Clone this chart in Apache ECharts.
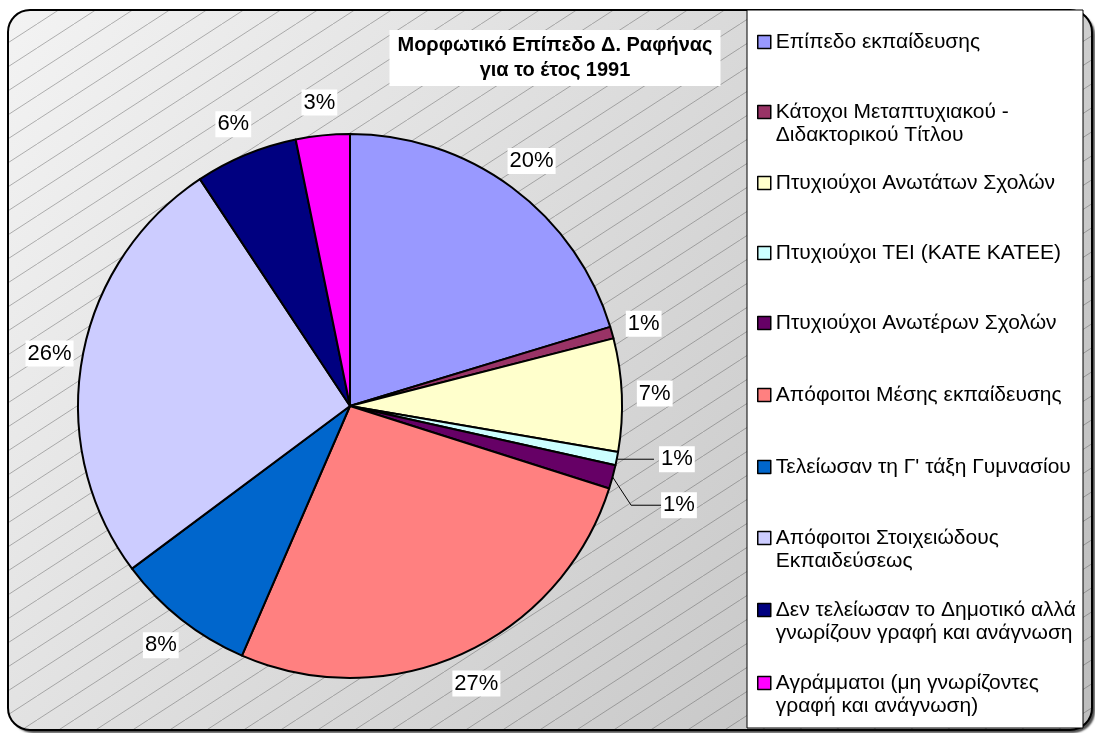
<!DOCTYPE html>
<html>
<head>
<meta charset="utf-8">
<title>Μορφωτικό Επίπεδο Δ. Ραφήνας</title>
<script src="https://cdn.jsdelivr.net/npm/echarts@6/dist/echarts.min.js"></script>
<style>
  html, body { margin: 0; padding: 0; background: #fff; }
  #chart { width: 1095px; height: 733px; }
</style>
</head>
<body>
<div id="chart"></div>
<script>
// legend names (\n = where the legend wraps the text)
const categories = [
  'Επίπεδο εκπαίδευσης',
  'Κάτοχοι Μεταπτυχιακού -\nΔιδακτορικού Τίτλου',
  'Πτυχιούχοι Ανωτάτων Σχολών',
  'Πτυχιούχοι ΤΕΙ (ΚΑΤΕ ΚΑΤΕΕ)',
  'Πτυχιούχοι Ανωτέρων Σχολών',
  'Απόφοιτοι Μέσης εκπαίδευσης',
  'Τελείωσαν τη Γ\' τάξη Γυμνασίου',
  'Απόφοιτοι Στοιχειώδους\nΕκπαιδεύσεως',
  'Δεν τελείωσαν το Δημοτικό αλλά\nγνωρίζουν γραφή και ανάγνωση',
  'Αγράμματοι (μη γνωρίζοντες\nγραφή και ανάγνωση)'
]
// share of population, %
const shares = [20.3, 0.7, 6.7, 0.8, 1.4, 26.6, 8.3, 25.9, 6.1, 3.2]
const colors = ['#9999FF', '#993366', '#FFFFCC', '#CCFFFF', '#660066',
  '#FF8080', '#0066CC', '#CCCCFF', '#000080', '#FF00FF']

const titleText = 'Μορφωτικό Επίπεδο Δ. Ραφήνας\nγια το έτος 1991'

// layout
const FONT = '"Liberation Sans", Arial, sans-serif'
const LEGEND_LH = 23.5
const legendRowY = [42, 112, 183, 253, 323, 395, 467, 538, 610, 683]
// slices whose label sits outside with a leader line: [length, length2, extra drop]
const leader = { 3: [3, 36, 0], 4: [14, 30, 18] }

// diagonal hatch tile for the chart area
const tile = document.createElement('canvas')
tile.width = 37
tile.height = 24
const g = tile.getContext('2d')
g.strokeStyle = 'rgba(80,80,80,0.42)'
g.lineWidth = 1
g.beginPath()
g.moveTo(-37, 48)
g.lineTo(74, -24)
g.stroke()

const chart = echarts.init(document.getElementById('chart'), null, { renderer: 'canvas' })

const pctLabel = p => Math.round(p.percent) + '%'

const labelStyle = {
  fontSize: 22,
  color: '#000',
  fontFamily: FONT,
  backgroundColor: '#fff',
  padding: [3, 2, 1, 2],
  formatter: pctLabel
}

const legends = categories.map((name, i) => {
  const twoLines = name.indexOf('\n') >= 0
  return {
    orient: 'vertical',
    left: 757,
    top: legendRowY[i] - (twoLines ? 1.5 : 0.5) * LEGEND_LH,
    padding: 0,
    itemGap: 0,
    itemWidth: 13,
    itemHeight: 13,
    icon: 'rect',
    selectedMode: false,
    data: [name],
    formatter: n => (twoLines ? '\n' + n : n),
    itemStyle: { borderColor: '#000', borderWidth: 1.5 },
    textStyle: { fontSize: 21, lineHeight: LEGEND_LH, color: '#000', fontFamily: FONT }
  }
})

// push a leader label further down; the guide line is then redrawn by echarts
function dropLabel(p) {
  const l = leader[p.dataIndex]
  if (!l || !l[2]) return {}
  return { y: p.labelRect.y + p.labelRect.height / 2 + l[2] }
}

const option = {
  animation: false,
  title: {
    text: titleText,
    left: 547,
    top: 30,
    textAlign: 'center',
    backgroundColor: '#fff',
    padding: [3, 8],
    textStyle: { fontSize: 20, fontWeight: 'bold', lineHeight: 25, color: '#000', fontFamily: FONT }
  },
  legend: legends,
  graphic: [
    {
      type: 'rect', z: -10,
      shape: { x: 8, y: 10, width: 1084, height: 720, r: 22 },
      style: {
        fill: new echarts.graphic.LinearGradient(0, 0, 1, 1, [
          { offset: 0, color: '#f3f3f3' },
          { offset: 1, color: '#bdbdbd' }
        ]),
        shadowColor: 'rgba(0,0,0,0.7)', shadowOffsetX: 3, shadowOffsetY: 3, shadowBlur: 2
      }
    },
    {
      type: 'rect', z: -9,
      shape: { x: 8, y: 10, width: 1084, height: 720, r: 22 },
      style: { fill: { image: tile, repeat: 'repeat' } }
    },
    {
      type: 'rect', z: -8,
      shape: { x: 8, y: 10, width: 1084, height: 720, r: 22 },
      style: { fill: 'none', stroke: '#000', lineWidth: 2 }
    },
    {
      type: 'rect', z: 1,
      shape: { x: 747, y: 10, width: 336, height: 718 },
      style: { fill: '#fff', stroke: '#000', lineWidth: 1 }
    }
  ],
  series: [
    {
      type: 'pie',
      center: [350, 406],
      radius: 272,
      startAngle: 90,
      clockwise: true,
      legendHoverLink: false,
      avoidLabelOverlap: true,
      itemStyle: { borderColor: '#000', borderWidth: 2 },
      label: Object.assign({ position: 'outside' }, labelStyle),
      labelLine: { lineStyle: { color: '#000', width: 1 } },
      labelLayout: dropLabel,
      emphasis: { disabled: true },
      data: shares.map((v, i) => ({
        name: categories[i],
        value: v,
        itemStyle: { color: colors[i] },
        label: { show: !!leader[i] },
        labelLine: leader[i]
          ? { show: true, length: leader[i][0], length2: leader[i][1] }
          : { show: false }
      }))
    },
    {
      // invisible ring just outside the pie, carries the plain percentage labels
      type: 'pie',
      center: [350, 406],
      radius: [290, 314],
      startAngle: 90,
      clockwise: true,
      silent: true,
      legendHoverLink: false,
      avoidLabelOverlap: false,
      itemStyle: { color: 'rgba(0,0,0,0)', borderWidth: 0 },
      label: Object.assign({ position: 'inside', rotate: 0 }, labelStyle),
      labelLine: { show: false },
      emphasis: { disabled: true },
      data: shares.map((v, i) => ({
        name: categories[i],
        value: v,
        label: { show: !leader[i] }
      }))
    }
  ]
}

chart.setOption(option)
</script>
</body>
</html>
